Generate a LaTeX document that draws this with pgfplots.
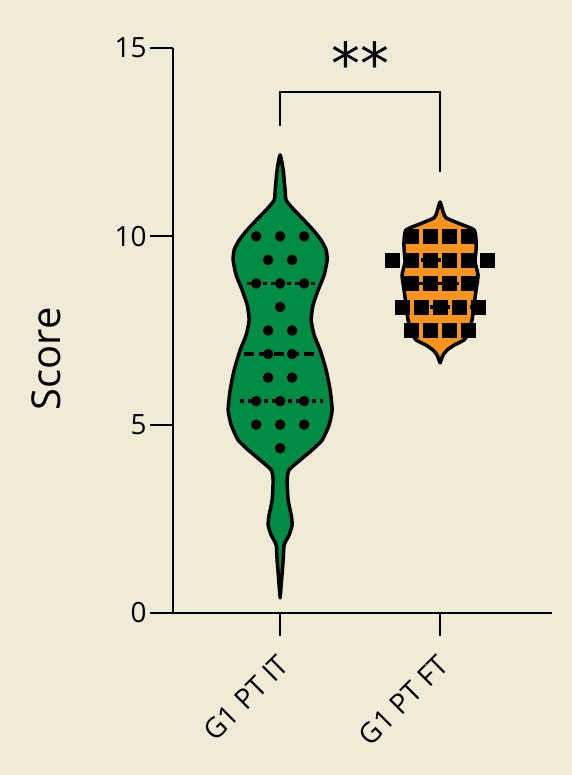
\documentclass[border=0pt]{standalone}
\usepackage{pgfplots}
\pgfplotsset{compat=1.18}
\usepackage{fontspec}
\setmainfont{Open Sans}
\newfontfamily\dejavu{DejaVu Sans}
\definecolor{bg}{RGB}{240,235,214}
\definecolor{vgreen}{RGB}{0,140,69}
\definecolor{vorange}{RGB}{247,148,29}
\begin{document}
\begin{tikzpicture}
\fill[bg] (0,0) rectangle (572bp,775bp);
\begin{axis}[
  at={(173bp,162bp)}, anchor=south west,
  scale only axis, width=379bp, height=565bp,
  xmin=0.33, xmax=2.7, ymin=0, ymax=15,
  axis lines=left, axis line style={-, line width=2bp},
  clip=false,
  xtick={1,2}, xticklabels={G1 PT IT, G1 PT FT},
  ytick={0,5,10,15},
  tick align=outside, major tick length=23bp,
  tick style={line width=2bp, black},
  /pgf/number format/assume math mode=true,
  ticklabel style={font=\fontsize{28}{32}\selectfont},
  xticklabel style={xshift=6bp, rotate=45, anchor=east},
  xticklabel shift=22bp,
  ylabel={Score},
  ylabel style={at={(rel axis cs:-0.335,0.45)}, anchor=center, font=\fontsize{40}{48}\selectfont},
]
% green violin
\addplot[draw=black, line width=3.5bp, fill=vgreen, line join=round, smooth, tension=0.35] coordinates {
(1,0.40) (1.019,1.41) (1.025,1.81) (1.056,2.07) (1.075,2.34) (1.069,2.60) (1.05,3.00) (1.044,3.53) (1.056,3.80) (1.125,4.06) (1.2,4.33) (1.2625,4.59) (1.306,4.99) (1.325,5.39) (1.3125,5.92) (1.2875,6.45) (1.25,6.98) (1.2125,7.38) (1.194,7.78) (1.206,8.18) (1.2375,8.57) (1.275,8.97) (1.294,9.37) (1.2875,9.64) (1.256,9.90) (1.206,10.17) (1.131,10.51) (1.0875,10.70) (1.0375,10.96) (1.031,11.23) (1.019,11.76) (1.0,12.16)
(0.981,11.76) (0.969,11.23) (0.9625,10.96) (0.9125,10.70) (0.869,10.51) (0.794,10.17) (0.744,9.90) (0.7125,9.64) (0.706,9.37) (0.725,8.97) (0.7625,8.57) (0.794,8.18) (0.806,7.78) (0.7875,7.38) (0.75,6.98) (0.7125,6.45) (0.6875,5.92) (0.675,5.39) (0.694,4.99) (0.7375,4.59) (0.8,4.33) (0.875,4.06) (0.944,3.80) (0.956,3.53) (0.95,3.00) (0.931,2.60) (0.925,2.34) (0.944,2.07) (0.975,1.81) (0.981,1.41) (1,0.40)
} -- cycle;
% orange violin
\addplot[draw=black, line width=3.5bp, fill=vorange, line join=round, smooth, tension=0.35] coordinates {
(2,6.64) (2.019,6.85) (2.044,6.98) (2.0875,7.11) (2.15,7.25) (2.175,7.43) (2.2,7.78) (2.2125,8.18) (2.225,8.57) (2.2375,8.97) (2.219,9.32) (2.225,9.64) (2.225,9.90) (2.2125,10.17) (2.125,10.33) (2.0375,10.49) (2.019,10.65) (2,10.91)
(1.981,10.65) (1.9625,10.49) (1.875,10.33) (1.7875,10.17) (1.775,9.90) (1.775,9.64) (1.781,9.32) (1.7625,8.97) (1.775,8.57) (1.7875,8.18) (1.8,7.78) (1.825,7.43) (1.85,7.25) (1.9125,7.11) (1.956,6.98) (1.981,6.85) (2,6.64)
} -- cycle;
% quartile lines
\addplot[black, line width=3.5bp, dash pattern=on 4bp off 4bp] coordinates {(0.79,8.75) (1.22,8.75)};
\addplot[black, line width=3.5bp, dash pattern=on 10bp off 5bp] coordinates {(0.775,6.875) (1.225,6.875)};
\addplot[black, line width=3.5bp, dash pattern=on 4bp off 4bp] coordinates {(0.75,5.625) (1.27,5.625)};
\addplot[black, line width=3.5bp, dash pattern=on 4bp off 4bp] coordinates {(1.78,9.375) (2.22,9.375)};
\addplot[black, line width=3.5bp, dash pattern=on 10bp off 5bp] coordinates {(1.775,8.75) (2.225,8.75)};
\addplot[black, line width=3.5bp, dash pattern=on 4bp off 4bp] coordinates {(1.79,8.125) (2.21,8.125)};
% points
\addplot[only marks, mark=*, mark size=5bp, black] coordinates {
(0.85,10) (1,10) (1.15,10)
(0.925,9.375) (1.075,9.375)
(0.85,8.75) (1,8.75) (1.15,8.75)
(1,8.125)
(0.925,7.5) (1.075,7.5)
(0.925,6.875) (1.075,6.875)
(0.925,6.25) (1.075,6.25)
(0.85,5.625) (1,5.625) (1.15,5.625)
(0.85,5) (1,5) (1.15,5)
(1,4.375)
};
\addplot[only marks, mark=square*, mark size=7bp, black] coordinates {
(1.822,10) (1.941,10) (2.059,10) (2.178,10)
(1.703,9.375) (1.822,9.375) (1.941,9.375) (2.059,9.375) (2.178,9.375) (2.297,9.375)
(1.822,8.75) (1.941,8.75) (2.059,8.75) (2.178,8.75)
(1.762,8.125) (1.881,8.125) (2.0,8.125) (2.119,8.125) (2.238,8.125)
(1.822,7.5) (1.941,7.5) (2.059,7.5) (2.178,7.5)
};
% significance bracket
\addplot[black, line width=2.5bp] coordinates {(1,12.93) (1,13.83) (2,13.83) (2,11.71)};
\node[font=\dejavu\fontsize{58}{60}\selectfont, anchor=base, inner sep=0pt] at (axis cs:1.5,14.02) {**};
\end{axis}
\end{tikzpicture}
\end{document}
